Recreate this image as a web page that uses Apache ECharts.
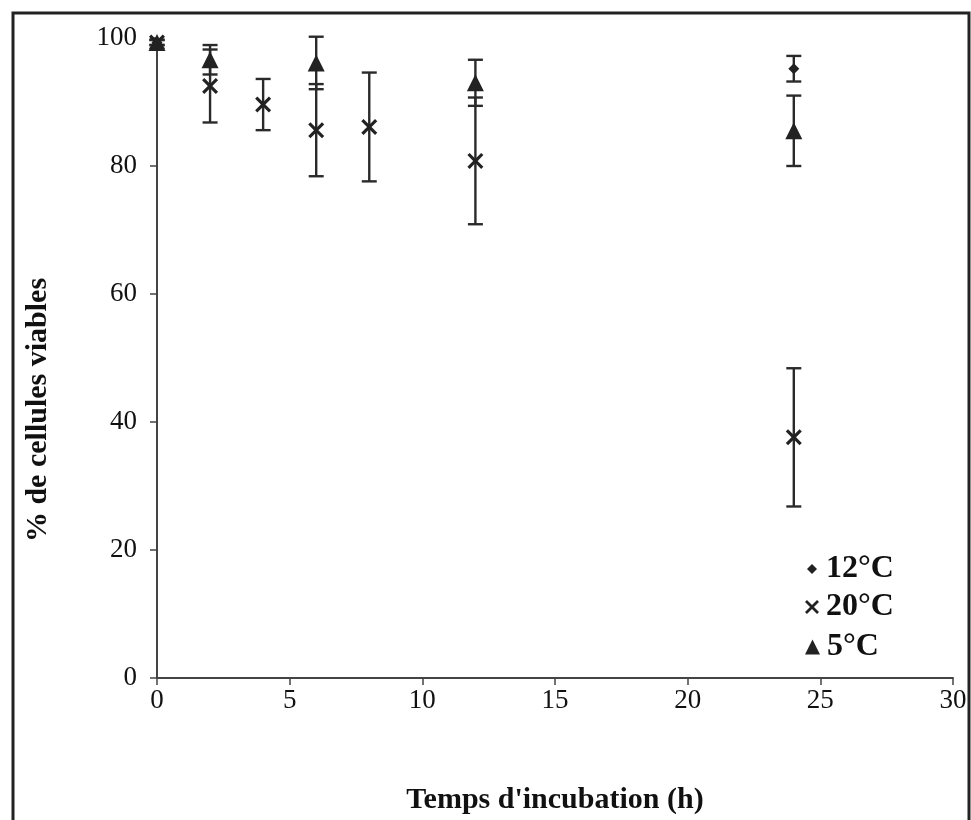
<!DOCTYPE html>
<html>
<head>
<meta charset="utf-8">
<script src="https://cdn.jsdelivr.net/npm/echarts@6/dist/echarts.min.js"></script>
<style>
html,body{margin:0;padding:0;background:#fff;}
#chart{width:971px;height:820px;}
</style>
</head>
<body>
<div id="chart"></div>
<script>
// ---- data ----
const xTicks = [0, 5, 10, 15, 20, 25, 30];
const yTicks = [0, 20, 40, 60, 80, 100];

const times12 = [0, 24];
const mean12  = [99.3, 95.2];
const err12   = [0.4, 2.0];

const times20 = [0, 2, 4, 6, 8, 12, 24];
const mean20  = [99.3, 92.5, 89.6, 85.6, 86.1, 80.8, 37.6];
const err20   = [0.4, 5.7, 4.0, 7.2, 8.5, 9.9, 10.8];

const times5 = [0, 2, 6, 12, 24];
const mean5  = [99.3, 96.6, 96.1, 93.0, 85.5];
const err5   = [0.4, 2.3, 4.1, 3.6, 5.5];

const seriesNames = ['12\u00B0C', '20\u00B0C', '5\u00B0C'];
const xTitle = "Temps d'incubation (h)";
const yTitle = '% de cellules viables';

// ---- build ----
const FONT = '"Liberation Serif", "Times New Roman", serif';
const INK = '#222';
const X_PATH = 'path://M0,2.8 L2.8,0 L10,7.2 L17.2,0 L20,2.8 L12.8,10 L20,17.2 L17.2,20 L10,12.8 L2.8,20 L0,17.2 L7.2,10 Z';

function pts(t, m) { return t.map((x, i) => [x, m[i]]); }
function errs(t, m, e) { return t.map((x, i) => [x, m[i] - e[i], m[i] + e[i]]); }

function errSeries(data) {
  return {
    type: 'custom',
    silent: true,
    z: 2,
    data: data,
    encode: { x: 0, y: [1, 2] },
    renderItem: function (params, api) {
      const x = api.value(0);
      const lo = api.coord([x, api.value(1)]);
      const hi = api.coord([x, api.value(2)]);
      const hw = 7.5;
      const style = { stroke: '#2a2a2a', lineWidth: 2.4, fill: null };
      return {
        type: 'group',
        children: [
          { type: 'line', shape: { x1: lo[0], y1: lo[1], x2: hi[0], y2: hi[1] }, style: style },
          { type: 'line', shape: { x1: lo[0] - hw, y1: lo[1], x2: lo[0] + hw, y2: lo[1] }, style: style },
          { type: 'line', shape: { x1: hi[0] - hw, y1: hi[1], x2: hi[0] + hw, y2: hi[1] }, style: style }
        ]
      };
    }
  };
}

const legendText = { fontFamily: FONT, fontSize: 32, fontWeight: 'bold', color: '#111' };

const option = {
  animation: false,
  backgroundColor: '#fff',
  graphic: [{
    type: 'rect',
    shape: { x: 13, y: 13, width: 956, height: 830 },
    style: { fill: null, stroke: '#222', lineWidth: 3 },
    silent: true
  }],
  grid: { left: 157, right: 18, top: 38, bottom: 134 },
  xAxis: {
    type: 'value', min: 0, max: 30, interval: 5,
    name: xTitle, nameLocation: 'middle', nameGap: 107,
    nameTextStyle: { fontFamily: FONT, fontSize: 30, fontWeight: 'bold', color: '#111' },
    axisLine: { lineStyle: { color: '#444', width: 2 } },
    axisTick: { show: true, length: 7, lineStyle: { color: '#444', width: 1.5 } },
    axisLabel: { fontFamily: FONT, fontSize: 27, color: '#111', margin: 9 },
    splitLine: { show: false }
  },
  yAxis: {
    type: 'value', min: 0, max: 100, interval: 20,
    name: yTitle, nameLocation: 'middle', nameGap: 104, nameRotate: 90,
    nameTextStyle: { fontFamily: FONT, fontSize: 30, fontWeight: 'bold', color: '#111', padding: [0, 104, 0, 0] },
    axisLine: { show: true, lineStyle: { color: '#444', width: 2 } },
    axisTick: { show: true, length: 7, lineStyle: { color: '#444', width: 1.5 } },
    axisLabel: { fontFamily: FONT, fontSize: 27, color: '#111', margin: 20 },
    splitLine: { show: false }
  },
  legend: [
    { data: [{ name: seriesNames[0], icon: 'diamond' }], orient: 'vertical', left: 807, top: 553,
      itemWidth: 10, itemHeight: 10, padding: 0,
      textStyle: Object.assign({ padding: [0, 0, 0, 4] }, legendText) },
    { data: [{ name: seriesNames[1], icon: X_PATH }], orient: 'vertical', left: 805, top: 591,
      itemWidth: 14, itemHeight: 14, padding: 0,
      textStyle: Object.assign({ padding: [0, 0, 0, 2] }, legendText) },
    { data: [{ name: seriesNames[2], icon: 'triangle' }], orient: 'vertical', left: 805, top: 631,
      itemWidth: 15, itemHeight: 15, padding: 0,
      textStyle: Object.assign({ padding: [0, 0, 0, 2] }, legendText) }
  ],
  series: [
    errSeries(errs(times12, mean12, err12)),
    errSeries(errs(times20, mean20, err20)),
    errSeries(errs(times5, mean5, err5)),
    { name: seriesNames[0], type: 'scatter', z: 5, symbol: 'diamond', symbolSize: 11,
      itemStyle: { color: INK, opacity: 1 }, data: pts(times12, mean12) },
    { name: seriesNames[1], type: 'scatter', z: 5, symbol: X_PATH, symbolSize: 16,
      itemStyle: { color: INK, opacity: 1 }, data: pts(times20, mean20) },
    { name: seriesNames[2], type: 'scatter', z: 5, symbol: 'triangle', symbolSize: 17,
      itemStyle: { color: INK, opacity: 1 }, data: pts(times5, mean5) }
  ]
};

const chart = echarts.init(document.getElementById('chart'), null, { renderer: 'canvas' });
chart.setOption(option);
</script>
</body>
</html>
